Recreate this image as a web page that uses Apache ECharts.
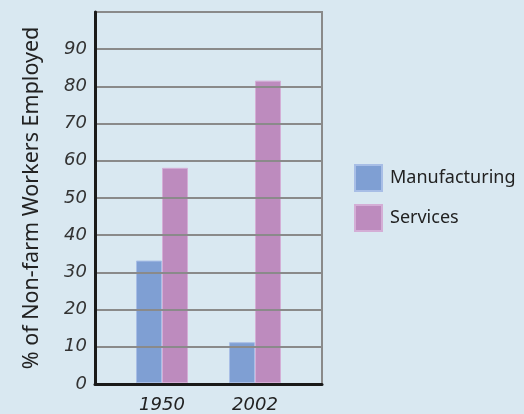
<!DOCTYPE html>
<html>
<head>
<meta charset="utf-8">
<script src="https://cdn.jsdelivr.net/npm/echarts@6/dist/echarts.min.js"></script>
<style>
  html, body { margin: 0; padding: 0; background: #d9e8f1; }
  #chart { width: 524px; height: 414px; }
</style>
</head>
<body>
<div id="chart"></div>
<script>
// Share of non-farm workers by sector
const years = ['1950', '2002'];
const manufacturing = [33, 11];
const services = [58, 81.5];
const yTicks = [0, 10, 20, 30, 40, 50, 60, 70, 80, 90];

const NUM_FONT = 'DejaVu Sans';
const TEXT_FONT = 'Noto Sans';
const chart = echarts.init(document.getElementById('chart'), null, { renderer: 'canvas' });

const plotTop = 12, plotHeight = 372;

chart.setOption({
  backgroundColor: '#d9e8f1',
  animation: false,
  legend: {
    orient: 'vertical',
    left: 354,
    top: 164,
    padding: 0,
    itemWidth: 27,
    itemHeight: 26,
    itemGap: 12,
    icon: 'rect',
    textStyle: { fontFamily: TEXT_FONT, fontSize: 18, color: '#222', padding: [0, 0, 0, 3] },
    data: ['Manufacturing', 'Services']
  },
  grid: [
    { left: 95, top: plotTop, width: 227, height: plotHeight, show: true,
      borderColor: '#8a8a8a', borderWidth: 2, backgroundColor: 'transparent' },
    { left: 115.5, top: plotTop, width: 186, height: plotHeight }
  ],
  xAxis: [
    { type: 'value', gridIndex: 0, min: 0, max: 1, z: 5,
      axisLine: { show: true, lineStyle: { color: '#1a1a1a', width: 3 } },
      axisTick: { show: false }, axisLabel: { show: false }, splitLine: { show: false } },
    { type: 'category', gridIndex: 1, data: years,
      axisLine: { show: false }, axisTick: { show: false },
      axisLabel: { fontFamily: NUM_FONT, fontStyle: 'italic', fontSize: 18, color: '#222', margin: 13 } }
  ],
  yAxis: [
    { type: 'value', gridIndex: 0, min: 0, max: 100, interval: 10, z: 5,
      name: '% of Non-farm Workers Employed',
      nameLocation: 'middle', nameGap: 52,
      nameTextStyle: { fontFamily: TEXT_FONT, fontSize: 21.5, color: '#222' },
      axisLine: { show: true, lineStyle: { color: '#1a1a1a', width: 3 } },
      axisTick: { show: false },
      axisLabel: {
        fontFamily: NUM_FONT, fontStyle: 'italic', fontSize: 18, color: '#333', margin: 8,
        formatter: v => (yTicks.indexOf(v) >= 0 ? String(v) : '')
      },
      splitLine: { show: true, lineStyle: { color: '#8a8a8a', width: 2 } } },
    { type: 'value', gridIndex: 1, min: 0, max: 100, show: false }
  ],
  series: [
    { name: 'Manufacturing', type: 'bar', xAxisIndex: 1, yAxisIndex: 1,
      data: manufacturing, barWidth: 26, barGap: '0%',
      itemStyle: { color: '#7f9fd3', borderColor: '#a8bee6', borderWidth: 1 } },
    { name: 'Services', type: 'bar', xAxisIndex: 1, yAxisIndex: 1,
      data: services, barWidth: 26, barGap: '0%',
      itemStyle: { color: '#bd8bbe', borderColor: '#d4aed6', borderWidth: 1 } }
  ]
});
</script>
</body>
</html>
